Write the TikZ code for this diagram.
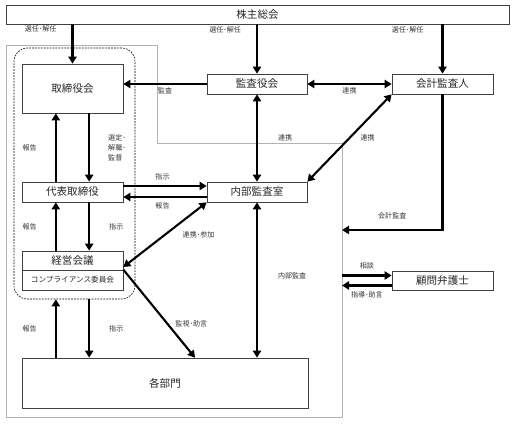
\documentclass[tikz,border=0pt]{standalone}
\usepackage{fontspec}
\setmainfont{Noto Sans CJK JP}
\usetikzlibrary{arrows.meta,calc}

\tikzset{
  box/.style={draw=black!75, line width=0.6pt, minimum width=3.03cm, minimum height=0.6cm,
    inner sep=0pt, text=black!85, font=\fontsize{9}{10}\selectfont},
  arr/.style={-{Triangle[length=6pt,width=7pt]}, line width=1.8pt},
  darr/.style={{Triangle[length=6pt,width=7pt]}-{Triangle[length=6pt,width=7pt]}, line width=1.8pt},
  lbl/.style={font=\fontsize{6}{8.5}\selectfont, inner sep=0pt, text=black!80},
}

\begin{document}
\begin{tikzpicture}[x=0.03cm,y=-0.03cm]
        \pgfmathsetmacro\dx{0.5}
        \useasboundingbox (0,0) rectangle (514,423);
        % company frame and board frame
        \coordinate (frR) at (342,143);
        \coordinate (audit) at (342,230);
        \draw[gray!60, line width=0.6pt] (6,45) -- (157,45) -- (157,143) -- (frR) -- (342,417) -- (6,417) -- cycle;
        \node[draw, line width=0.5pt, dash pattern=on 1.5pt off 1pt, rounded corners=0.4cm,
              minimum width=3.63cm, minimum height=7.53cm] (board) at (74.5,173.5) {};
        % boxes
        \node[box, minimum width=15.09cm, minimum height=0.57cm] (soukai) at (257.5,14.5) {株主総会};
        \node[box, minimum height=1.47cm] (torishimari) at (72.5,88.5) {取締役会};
        \node[box, minimum width=3cm] (kansayaku) at (257,84) {監査役会};
        \node[box] (kaikei) at (442.5,84) {会計監査人};
        \node[box] (daihyo) at (72.5,192) {代表取締役};
        \node[box, minimum width=3cm] (naibu) at (257,192) {内部監査室};
        \node[box, minimum height=0.57cm] (keiei) at (72.5,260.5) {経営会議};
        \node[box, font=\fontsize{6.5}{8}\selectfont] (comp) at (72.5,280) {コンプライアンス委員会};
        \node[box, minimum height=0.57cm] (bengoshi) at (442.5,280.5) {顧問弁護士};
        \node[box, minimum width=8.58cm, minimum height=1.5cm] (bumon) at (165,383) {各部門};
        % shareholders
        \draw[arr] (soukai.south -| torishimari) -- (torishimari.north) node[lbl,pos=0.12,left=0.45cm] (l1) {選任･解任};
        \draw[arr] (soukai.south -| kansayaku) -- (kansayaku.north) node[lbl,pos=0.12,left=0.45cm] (l2) {選任･解任};
        \draw[arr] (soukai.south -| kaikei) -- (kaikei.north) node[lbl,pos=0.12,left=0.54cm] (l3) {選任･解任};
        % auditors
        \draw[arr] (kansayaku.west) -- (kansayaku.west -| torishimari.east) node[lbl,pos=0.5,below=2pt] (l4) {監査};
        \draw[darr] (kansayaku.east) -- (kaikei.west) node[lbl,pos=0.5,below=2pt] (l5) {連携};
        \draw[darr] (kansayaku.south) -- (naibu.north) node[lbl,pos=0.5,right=0.6cm] (l6) {連携};
        \draw[darr] (kaikei.south west) -- (naibu.north east) node[lbl,pos=0.5,right=0.3cm] (l7) {連携};
        \draw[arr] (kaikei.south) |- (audit) node[lbl,pos=0.75,above=0.3cm] (l19) {会計監査};
        % board
        \draw[arr] ([xshift=\dx cm]torishimari.south) -- ([xshift=\dx cm]daihyo.north)
            node[lbl,pos=0.5,right=0.54cm,align=left] (l8) {選定･\\解職･\\監督};
        \draw[arr] ([xshift=-\dx cm]daihyo.north) -- ([xshift=-\dx cm]torishimari.south) node[lbl,pos=0.5,left=0.54cm] (l9) {報告};
        \draw[arr] ([yshift=0.18cm]daihyo.east) -- ([yshift=0.18cm]naibu.west) node[lbl,pos=0.47,above=0.15cm] (l10) {指示};
        \draw[arr] ([yshift=-0.15cm]naibu.west) -- ([yshift=-0.15cm]daihyo.east) node[lbl,pos=0.53,below=0.15cm] (l11) {報告};
        \draw[arr] ([xshift=\dx cm]daihyo.south) -- ([xshift=\dx cm]keiei.north) node[lbl,pos=0.5,right=0.57cm] (l12) {指示};
        \draw[arr] ([xshift=-\dx cm]keiei.north) -- ([xshift=-\dx cm]daihyo.south) node[lbl,pos=0.5,left=0.54cm] (l13) {報告};
        \draw[darr] (naibu.south west) -- ([yshift=0.1cm]keiei.south east) node[lbl,pos=0.5,right=0.5cm] (l14) {連携･参加};
        \draw[darr] (naibu.south) -- (naibu.south |- bumon.north) node[lbl,pos=0.47,right=0.6cm] (l15) {内部監査};
        \draw[arr] (comp.north east) -- ([xshift=0.9cm]bumon.north) node[lbl,pos=0.62,right=0.2cm] (l16) {監視･助言};
        \draw[arr] ([xshift=-\dx cm]torishimari.south |- bumon.north) -- ([xshift=-\dx cm]torishimari.south |- board.south)
            node[lbl,pos=0.5,left=0.54cm] (l17) {報告};
        \draw[arr] ([xshift=\dx cm]torishimari.south |- board.south) -- ([xshift=\dx cm]torishimari.south |- bumon.north)
            node[lbl,pos=0.5,right=0.57cm] (l18) {指示};
        % lawyer
        \draw[arr] ([yshift=0.15cm]bengoshi.west -| frR) -- ([yshift=0.15cm]bengoshi.west) node[lbl,pos=0.5,above=0.15cm] (l20) {相談};
        \draw[arr] ([yshift=-0.15cm]bengoshi.west) -- ([yshift=-0.15cm]bengoshi.west -| frR) node[lbl,pos=0.5,below=0.15cm] (l21) {指導･助言};
\end{tikzpicture}
\end{document}
